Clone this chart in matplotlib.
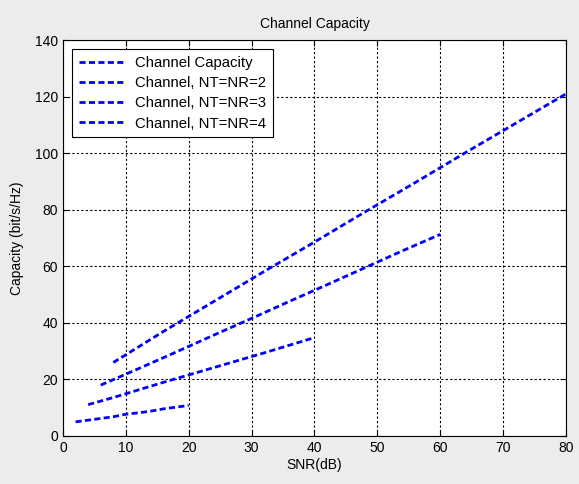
import numpy as np
import matplotlib.pyplot as plt

plt.rcParams['font.family'] = ['Liberation Sans', 'DejaVu Sans']

# Data (SNR in dB, capacity in bit/s/Hz)
snr_1 = [2, 4, 6, 8, 10, 12, 14, 16, 18, 20]
cap_1 = [5.0, 5.6, 6.2, 6.8, 7.7, 8.2, 8.8, 9.6, 10.2, 10.8]
snr_2 = [4, 8, 12, 16, 20, 24, 28, 32, 36, 40]
cap_2 = [11.1, 13.6, 16.3, 19.0, 21.6, 24.2, 26.8, 29.4, 32.1, 34.8]
snr_3 = [6, 12, 18, 24, 30, 36, 42, 48, 54, 60]
cap_3 = [18.0, 23.8, 29.7, 35.7, 41.6, 47.6, 53.5, 59.5, 65.5, 71.3]
snr_4 = [8, 16, 24, 32, 40, 48, 56, 64, 72, 80]
cap_4 = [26.0, 37.0, 47.6, 58.2, 68.6, 79.2, 89.6, 100.2, 110.6, 121.0]
labels = ["Channel Capacity", "Channel, NT=NR=2", "Channel, NT=NR=3", "Channel, NT=NR=4"]

fig = plt.figure(figsize=(5.79, 4.84), dpi=100, facecolor='#ececec')
ax = fig.add_axes([0.1088, 0.0992, 0.8687, 0.8178])

for x, y, lab in zip([snr_1, snr_2, snr_3, snr_4], [cap_1, cap_2, cap_3, cap_4], labels):
    ax.plot(x, y, color='blue', linestyle=(0, (2.2, 1.2)), linewidth=2, label=lab)

ax.set_xlim(0, 80)
ax.set_ylim(0, 140)
ax.set_xticks(np.arange(0, 81, 10))
ax.set_yticks(np.arange(0, 141, 20))
ax.grid(True, color='black', linestyle=(0, (2, 2)), linewidth=0.8)
ax.tick_params(direction='in', top=True, right=True, labelsize=10, length=4)
for s in ax.spines.values():
    s.set_linewidth(0.8)

ax.set_title("Channel Capacity", fontsize=10, pad=9)
ax.set_xlabel("SNR(dB)", fontsize=10, labelpad=2)
ax.set_ylabel("Capacity (bit/s/Hz)", fontsize=10, labelpad=8)

leg = ax.legend(loc='upper left', fontsize=10.7, fancybox=False, framealpha=1,
                edgecolor='black', handlelength=3, borderaxespad=0.6,
                labelspacing=0.42, borderpad=0.45)
leg.get_frame().set_linewidth(0.8)

fig.savefig("out.png", dpi=100, facecolor=fig.get_facecolor())
